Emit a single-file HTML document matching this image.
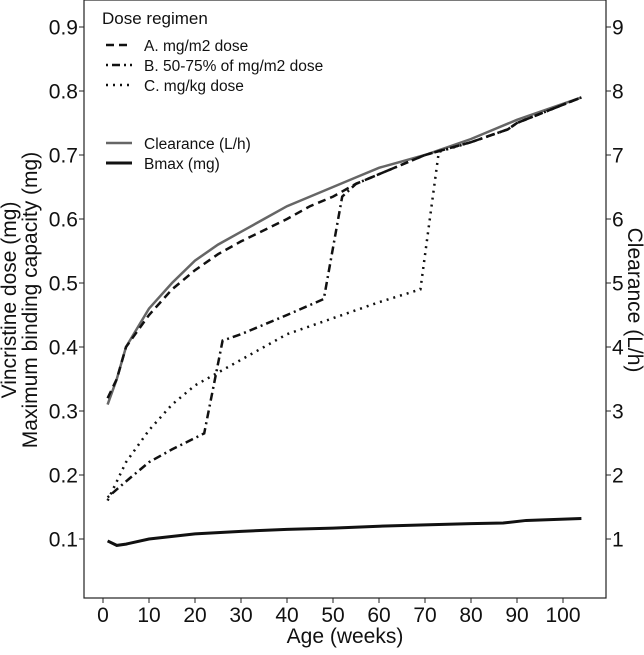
<!DOCTYPE html>
<html><head><meta charset="utf-8"><style>
body{margin:0;background:#fff;}
svg text{font-family:"Liberation Sans",Arial,sans-serif;fill:#111;}
</style></head><body>
<svg id="chart" width="644" height="650">
<rect x="84" y="0" width="522" height="598" fill="none" stroke="#222" stroke-width="1.2"/>
<g id="axes"></g><g id="series"></g>
<text x="0" y="0" font-size="21" text-anchor="middle" transform="translate(16,300) rotate(-90)">Vincristine dose (mg)</text>
<text x="0" y="0" font-size="21" text-anchor="middle" transform="translate(37,300) rotate(-90)">Maximum binding capacity (mg)</text>
<text x="0" y="0" font-size="21" text-anchor="middle" transform="translate(628,300) rotate(90)">Clearance (L/h)</text>
<text x="345" y="643" font-size="21" text-anchor="middle">Age (weeks)</text>
<g>
<text x="102" y="24" font-size="17">Dose regimen</text>
<line x1="106" y1="45" x2="132" y2="45" stroke="#111" stroke-width="2.5" stroke-dasharray="8,5"/>
<text x="144" y="51" font-size="15.5">A. mg/m2 dose</text>
<line x1="106" y1="65" x2="132" y2="65" stroke="#111" stroke-width="2.5" stroke-dasharray="2,4,8,4"/>
<text x="144" y="71" font-size="15.5">B. 50-75% of mg/m2 dose</text>
<line x1="106" y1="85" x2="132" y2="85" stroke="#111" stroke-width="2.5" stroke-dasharray="2,5"/>
<text x="144" y="91" font-size="15.5">C. mg/kg dose</text>
<line x1="106" y1="143" x2="132" y2="143" stroke="#666" stroke-width="2.5"/>
<text x="144" y="149" font-size="15.5">Clearance (L/h)</text>
<line x1="106" y1="163" x2="132" y2="163" stroke="#111" stroke-width="3"/>
<text x="144" y="169" font-size="15.5">Bmax (mg)</text>
</g>
</svg>
<script>
const xTicks=[0,10,20,30,40,50,60,70,80,90,100];
const yTicks=[0.1,0.2,0.3,0.4,0.5,0.6,0.7,0.8,0.9];
const yTickLabels=["0.1","0.2","0.3","0.4","0.5","0.6","0.7","0.8","0.9"];
const rightTicks=[1,2,3,4,5,6,7,8,9];
const clWeeks=[1,3,5,10,15,20,25,30,35,40,45,50,55,60,70,80,90,104];
const clValues=[3.1,3.5,4.0,4.6,5.0,5.35,5.6,5.8,6.0,6.2,6.35,6.5,6.65,6.8,7.0,7.25,7.55,7.9];
const aWeeks=[1,3,5,10,15,20,25,30,40,45,50,55,60,70,80,88,90,104];
const aValues=[0.32,0.35,0.40,0.45,0.49,0.52,0.545,0.565,0.60,0.62,0.635,0.655,0.67,0.70,0.72,0.74,0.75,0.79];
const bWeeks=[1,5,10,15,22,26,30,40,48,52,55,60,70,80,88,90,104];
const bValues=[0.165,0.19,0.22,0.24,0.265,0.41,0.42,0.45,0.475,0.635,0.655,0.67,0.70,0.72,0.74,0.75,0.79];
const cWeeks=[1,5,10,15,20,25,30,40,50,60,69,73,80,88,90,104];
const cValues=[0.16,0.22,0.27,0.31,0.34,0.36,0.38,0.42,0.445,0.47,0.49,0.705,0.72,0.74,0.75,0.79];
const bmWeeks=[1,3,5,10,20,30,40,50,60,70,80,87,92,104];
const bmValues=[0.097,0.09,0.092,0.1,0.108,0.112,0.115,0.117,0.12,0.122,0.124,0.125,0.129,0.132];
const NS="http://www.w3.org/2000/svg";
const X=w=>103+w*4.6;
const Y=v=>539-(v-0.1)*640;
const YR=c=>Y(c/10);
const ax=document.getElementById('axes'),sr=document.getElementById('series');
function mk(t,a,p){const e=document.createElementNS(NS,t);for(const k in a)e.setAttribute(k,a[k]);p.appendChild(e);return e;}
xTicks.forEach(t=>{
 const l=mk('line',{x1:X(t),x2:X(t),y1:598,y2:603,stroke:'#222'},ax);
 
 
 const s=mk('text',{x:X(t),y:622,'font-size':21,'text-anchor':'middle'},ax);s.textContent=t;
 
 
});
yTicks.forEach((t,i)=>{
 const l=mk('line',{x1:79,x2:84,y1:Y(t),y2:Y(t),stroke:'#222'},ax);
 
 
 const s=mk('text',{x:78,y:Y(t)+7.5,'font-size':21,'text-anchor':'end'},ax);s.textContent=yTickLabels[i];
 
 
});
rightTicks.forEach(t=>{
 const l=mk('line',{x1:606,x2:611,y1:YR(t),y2:YR(t),stroke:'#222'},ax);
 
 
 const s=mk('text',{x:612,y:YR(t)+7.5,'font-size':21},ax);s.textContent=t;
 
 
});
function line(ws,vs,f,attrs,name){
 const p=mk('polyline',Object.assign({points:ws.map((w,i)=>X(w)+','+f(vs[i])).join(' '),fill:'none'},attrs),sr);
 
 
}
line(clWeeks,clValues,YR,{stroke:'#666','stroke-width':2.5},'clearance-line');
line(aWeeks,aValues,Y,{stroke:'#111','stroke-width':2.5,'stroke-dasharray':'8,5'},'dose-a-line');
line(bWeeks,bValues,Y,{stroke:'#111','stroke-width':2.5,'stroke-dasharray':'2,4,8,4'},'dose-b-line');
line(cWeeks,cValues,Y,{stroke:'#111','stroke-width':2.5,'stroke-dasharray':'2,5'},'dose-c-line');
line(bmWeeks,bmValues,Y,{stroke:'#111','stroke-width':3},'bmax-line');
</script>
</body></html>
